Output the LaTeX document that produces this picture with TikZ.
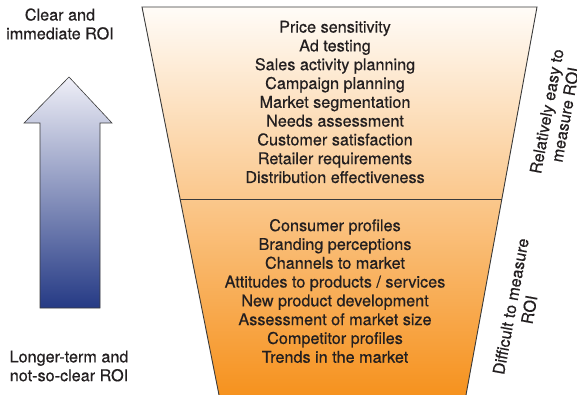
\documentclass[tikz,border=0pt]{standalone}
\usepackage{fontspec}
\setmainfont{TeX Gyre Heros}
\newfontfamily\medfont{TeX Gyre Heros}[FakeBold=0.5]
\begin{document}
\definecolor{txt}{HTML}{231F20}
\definecolor{edge}{HTML}{3A3A3A}
\definecolor{funtop}{HTML}{FFFCF8}
\definecolor{funmid}{HTML}{FBC994}
\definecolor{funbot}{HTML}{F6921E}
\definecolor{arrtop}{HTML}{EFEFF7}
\definecolor{arrbot}{HTML}{253A85}
\begin{tikzpicture}[x=1pt,y=-1pt,
  lbl/.style={text=txt,align=center,font=\medfont\fontsize{16.2}{18.8}\selectfont,inner sep=0pt},
  outline/.style={draw=edge,line width=0.9pt}]
\useasboundingbox (0,0) rectangle (577,395);

% funnel body with vertical colour fade
\coordinate (tl) at (142,7);
\coordinate (tr) at (537,7);
\coordinate (bl) at (219,395);
\coordinate (br) at (466,395);
\coordinate (ml) at (180,199);
\coordinate (mr) at (502,199);
\shade[top color=funtop,middle color=funmid,bottom color=funbot]
  (tl) -- (tr) -- (br) -- (bl) -- cycle;
\draw[outline] (bl) -- (tl) -- (tr) -- (br);
\draw[outline] (ml) -- (mr);

% upward arrow
\shade[top color=arrtop,bottom color=arrbot,draw=edge,line width=0.6pt]
  (69,77) -- (112,123) -- (100,123) -- (100,308) -- (40,308) -- (40,123) -- (24,123) -- cycle;

% arrow end labels
\node[lbl] (clear) at (60,24) {Clear and\\immediate ROI};
\node[lbl] (longer) at (69,366) {Longer-term and\\not-so-clear ROI};

% research items
\node[lbl] (easy) at (335,102) {Price sensitivity\\Ad testing\\Sales activity planning\\Campaign planning\\Market segmentation\\Needs assessment\\Customer satisfaction\\Retailer requirements\\Distribution effectiveness};
\node[lbl] (hard) at (335,291) {Consumer profiles\\Branding perceptions\\Channels to market\\Attitudes to products / services\\New product development\\Assessment of market size\\Competitor profiles\\Trends in the market};

% side labels along the funnel edge
\node[lbl,rotate=79.6] (easylbl) at (556,113) {Relatively easy to\\measure ROI};
\node[lbl,rotate=79.6] (hardlbl) at (520,308) {Difficult to measure\\ROI};
\end{tikzpicture}
\end{document}
